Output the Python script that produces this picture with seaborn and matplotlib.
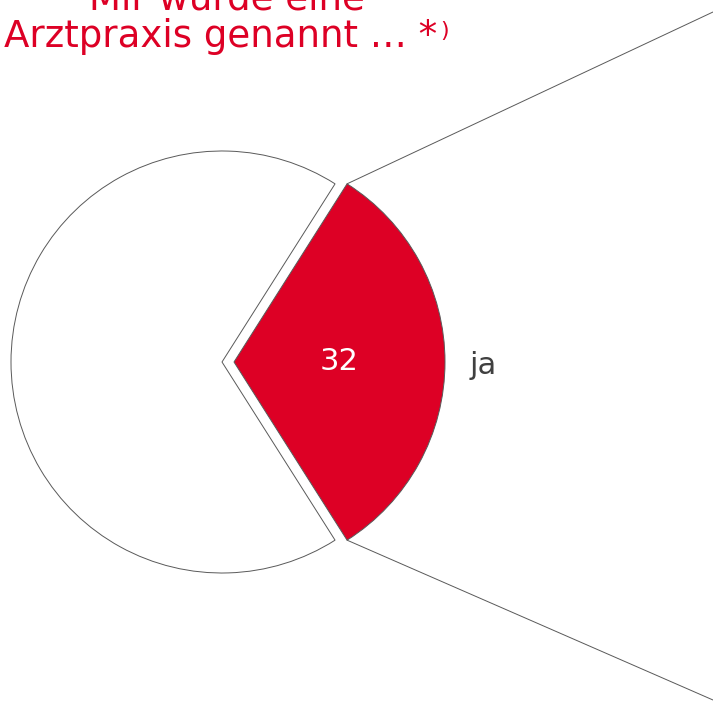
import numpy as np
import matplotlib
matplotlib.use("Agg")
import matplotlib.pyplot as plt
import seaborn as sns

# ---- data ----
categories = ["ja", "nein"]
values = [32, 68]
value_labels = ["32", ""]
title_lines = ["Mir wurde eine", "Arztpraxis genannt … *"]
footnote_mark = ")"

# ---- style ----
sns.set_theme(style="white")
plt.rcParams["font.family"] = ["DejaVu Sans"]
RED = "#DD0025"
EDGE = "#595959"
TXT = "#404040"

W, H = 713, 702
fig = plt.figure(figsize=(W / 100, H / 100), dpi=100)
ax = fig.add_axes([0, 0, 1, 1])

R_PX = 211.0
CX, CY = 222.0, 362.0  # pie centre in pixels (from top-left)

share = values[0] / sum(values)
start = -share * 360 / 2
explode_r = 12 / R_PX

wedges, texts, autotexts = ax.pie(
    values,
    labels=[categories[0], ""],
    colors=[RED, "white"],
    startangle=start,
    counterclock=True,
    explode=[explode_r, 0],
    labeldistance=1.115,
    pctdistance=0.5,
    autopct=lambda p: "",
    wedgeprops=dict(edgecolor=EDGE, linewidth=0.7),
    textprops=dict(fontsize=22, color=TXT),
)
for t, lab in zip(autotexts, value_labels):
    t.set_text(lab)
    t.set_color("white")
    t.set_fontsize(22)
for t in texts:
    t.set_va("center_baseline")

ax.set_xlim(-CX / R_PX, (W - CX) / R_PX)
ax.set_ylim(-(H - CY) / R_PX, CY / R_PX)
ax.set_aspect("auto")
ax.axis("off")

# connector lines from the exploded wedge to the (off-canvas) breakdown bar
theta1 = np.deg2rad(start)
theta2 = np.deg2rad(start + share * 360)
ox = explode_r
top_corner = (ox + np.cos(theta2), np.sin(theta2))
bot_corner = (ox + np.cos(theta1), np.sin(theta1))
xr = ax.get_xlim()[1]
top_target_y = (CY - 12) / R_PX
bot_target_y = -(700 - CY) / R_PX
ax.plot([top_corner[0], xr], [top_corner[1], top_target_y], color=EDGE, lw=0.7, clip_on=False)
ax.plot([bot_corner[0], xr], [bot_corner[1], bot_target_y], color=EDGE, lw=0.7, clip_on=False)

# title (top line partly cut off like the reference)
fig.text(227 / W, 1 - 9 / H, title_lines[0], ha="center", va="baseline",
         color=RED, fontsize=26.7)
t2 = fig.text(220.5 / W, 1 - 47 / H, title_lines[1], ha="center", va="baseline",
              color=RED, fontsize=26.7)
fig.canvas.draw()
bb = t2.get_window_extent()
fig.text(bb.x1 / W + 0.004, 1 - 31 / H, footnote_mark, color=RED, fontsize=16,
         ha="left", va="center")

fig.savefig("out.png", dpi=100)
